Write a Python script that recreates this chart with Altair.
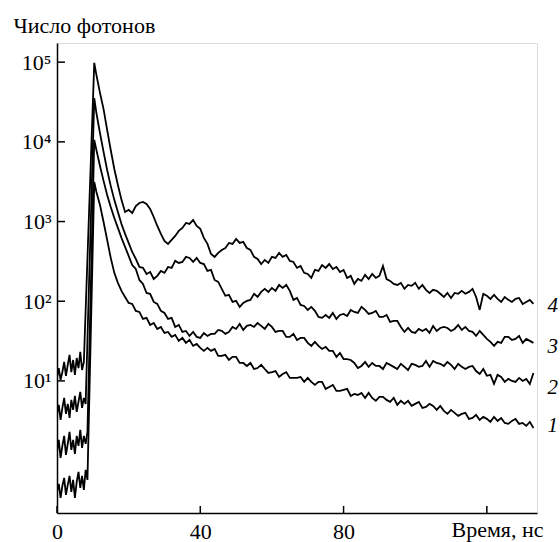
import altair as alt
import pandas as pd

# time grid, ns
t_ns = [0, 0.5, 1, 1.5, 2, 2.5, 3, 3.5, 4, 4.5, 5, 5.5, 6, 6.5, 7, 7.5, 8, 8.5, 10.4] + list(range(11, 134))

curve4 = [10.9, 14.5, 10.3, 12.9, 17.3, 11.6, 15.9, 21.2, 12.9, 18.3, 11.9, 19.4, 14.5, 23.1, 13.7, 17.3,
          77.8, 340, 98000,
          69100, 41100, 25800, 14100, 7910, 4570, 2880, 1870, 1320, 1400,
          1280, 1560, 1710, 1765, 1660, 1440, 1140, 880, 700, 571,
          524, 588, 660, 763, 832, 960, 933, 1047, 880, 808,
          623, 524, 392, 360, 404, 440, 466, 539, 524, 605,
          539, 555, 466, 440, 360, 340, 293, 330, 302, 360,
          349, 404, 360, 381, 321, 311, 262, 277, 227, 220,
          196, 247, 240, 285, 262, 293, 254, 269, 233, 247,
          196, 208, 165, 190, 180, 214, 190, 220, 196, 208,
          277, 190, 180, 165, 160, 170, 143, 160, 156, 170,
          143, 160, 139, 127, 139, 135, 124, 113, 127, 110,
          127, 124, 135, 124, 131, 143, 113, 77.8, 124, 117,
          107, 120, 107, 98, 113, 104, 98, 107, 110, 92.5,
          98, 104, 92.5]

curve3 = [3.75, 5.00, 3.24, 4.59, 6.12, 3.86, 5.15, 3.43, 5.78, 4.33, 6.48, 4.09, 5.46, 7.28, 4.59, 6.12, 5.15,
          32.7, 35500,
          23000, 12900, 7470, 4440, 2800, 1870, 1320, 933, 700, 539,
          415, 340, 269, 262, 220, 233, 190, 208, 240, 227,
          269, 262, 321, 302, 311, 360, 349, 311, 349, 302,
          293, 240, 247, 185, 175, 143, 117, 120, 98, 101,
          84.9, 95, 101, 104, 124, 113, 131, 143, 131, 147,
          135, 160, 147, 160, 135, 104, 110, 89.9, 87.3, 77.8,
          84.9, 75.6, 63.5, 61.8, 67.3, 61.8, 71.3, 60.0, 67.3, 69.3,
          65.4, 77.8, 73.4, 71.3, 84.9, 77.8, 69.3, 71.3, 75.6, 63.5,
          63.5, 67.3, 55.0, 56.6, 56.6, 47.6, 41.2, 46.2, 41.2, 40.0,
          44.9, 42.4, 44.9, 40.0, 49.0, 42.4, 46.2, 47.6, 46.2, 42.4,
          44.9, 50.4, 43.6, 47.6, 42.4, 41.2, 36.7, 42.4, 37.8, 33.7,
          30.9, 27.5, 30.9, 30.0, 35.7, 35.7, 32.7, 33.7, 36.7, 30.0,
          33.7, 31.8, 30.0]

curve2 = [1.28, 1.82, 1.08, 1.53, 2.04, 1.18, 1.62, 2.29, 1.36, 1.82, 1.21, 2.04, 1.53, 2.43, 1.44, 2.04, 1.62, 2.29,
          10600,
          7910, 4980, 3240, 2160, 1520, 1110, 832, 623, 480, 370,
          285, 254, 185, 165, 127, 124, 98, 92.5, 75.6, 71.3,
          60.0, 61.8, 47.6, 50.4, 41.2, 42.4, 36.7, 41.2, 35.7, 34.7,
          40.0, 36.7, 38.9, 38.9, 43.6, 42.4, 38.9, 41.2, 47.6, 44.9,
          51.9, 43.6, 49.0, 50.4, 47.6, 53.4, 49.0, 44.9, 51.9, 47.6,
          41.2, 42.4, 42.4, 35.7, 35.7, 38.9, 32.7, 34.7, 34.7, 30.0,
          27.5, 30.9, 27.5, 25.2, 26.7, 23.8, 23.8, 20.0, 22.4, 18.8,
          18.8, 18.3, 16.8, 14.5, 15.4, 17.3, 15.0, 16.8, 15.4, 15.4,
          14.1, 16.8, 15.9, 15.0, 14.1, 16.4, 15.0, 13.7, 16.4, 15.9,
          15.0, 15.4, 17.8, 15.0, 17.8, 16.8, 16.4, 15.4, 17.3, 15.9,
          14.1, 16.4, 15.0, 14.1, 15.0, 15.4, 13.3, 12.2, 14.1, 11.6,
          11.9, 9.17, 11.9, 11.2, 9.72, 10.6, 10.0, 9.72, 10.9, 10.0,
          10.6, 9.17, 12.6]

curve1 = [0.405, 0.511, 0.340, 0.482, 0.607, 0.371, 0.496, 0.643, 0.405, 0.573, 0.340, 0.541, 0.721, 0.455, 0.643, 0.429, 0.764, 0.573,
          3140,
          2350, 1610, 988, 588, 350, 227, 170, 135, 113, 95.2,
          92.5, 75.6, 73.4, 60.0, 61.8, 50.4, 53.4, 44.9, 47.6, 40.0,
          41.2, 35.7, 37.8, 31.8, 34.7, 30.0, 32.7, 27.5, 29.1, 26.0,
          23.8, 26.0, 23.8, 25.2, 20.6, 20.6, 21.2, 18.3, 20.0, 20.0,
          16.8, 16.8, 15.4, 16.8, 14.1, 14.5, 15.9, 14.1, 12.6, 12.9,
          13.3, 11.2, 12.2, 12.9, 10.9, 10.9, 10.9, 11.2, 9.72, 10.9,
          9.72, 8.91, 9.72, 9.72, 7.94, 8.40, 8.91, 7.49, 7.49, 7.71,
          7.94, 6.48, 6.87, 6.67, 7.07, 6.12, 7.07, 6.12, 5.62, 6.30,
          6.30, 5.78, 5.46, 6.12, 5.00, 5.62, 5.15, 5.62, 4.86, 5.15,
          5.46, 4.59, 4.72, 5.15, 4.86, 4.33, 4.86, 4.21, 3.86, 4.33,
          3.97, 3.64, 3.86, 3.97, 3.34, 3.43, 3.75, 3.24, 3.54, 3.34,
          3.06, 3.54, 3.15, 3.43, 2.97, 2.89, 3.15, 3.34, 2.89, 2.97,
          2.73, 3.06, 2.57]

curve_names = ["1", "2", "3", "4"]
label_t = [138.4, 138.4, 138.4, 138.4]
label_counts = [2.73, 8.17, 26.7, 87.3]

x_ticks = [0, 40, 80, 120]
y_ticks = [10, 100, 1000, 10000, 100000]

rows = []
for name, vals in zip(curve_names, [curve1, curve2, curve3, curve4]):
    for t, v in zip(t_ns, vals):
        rows.append({"t": t, "count": v, "curve": name})
df = pd.DataFrame(rows)

FONT = "Liberation Serif"

x_enc = alt.X(
    "t:Q",
    scale=alt.Scale(domain=[0, 134], nice=False, zero=False),
    axis=alt.Axis(
        values=x_ticks,
        labelExpr="datum.value == 120 ? '' : datum.label",
        ticks=False, tickSize=0, grid=False,
        domainColor="black", domainWidth=1.5,
        labelFont=FONT, labelFontSize=22, labelColor="black",
        labelPadding=8, labelFlush=False,
        title="Время, нс", titleFont=FONT, titleFontSize=22,
        titleFontWeight="normal", titleColor="black",
        titleAlign="right", titleBaseline="alphabetic",
        titleX=486, titleY=23,
    ),
)
y_enc = alt.Y(
    "count:Q",
    scale=alt.Scale(type="log", domain=[0.22, 174000], nice=False),
    axis=alt.Axis(
        values=y_ticks,
        labelExpr="'10' + (datum.value == 10 ? '¹' : datum.value == 100 ? '²' : datum.value == 1000 ? '³' : datum.value == 10000 ? '⁴' : '⁵')",
        ticks=False, tickSize=0, grid=False,
        domainColor="black", domainWidth=1.5,
        labelFont=FONT, labelFontSize=22, labelColor="black",
        labelPadding=6, labelFlush=False,
        title="Число фотонов", titleFont=FONT, titleFontSize=22,
        titleFontWeight="normal", titleColor="black", titleAngle=0,
        titleAlign="left", titleBaseline="alphabetic",
        titleX=-44, titleY=-11,
    ),
)

lines = alt.Chart(df).mark_line(color="black", strokeWidth=1.8, clip=True).encode(
    x=x_enc, y=y_enc, detail="curve:N"
)

ytick_df = pd.DataFrame({"count": y_ticks})
yticks = alt.Chart(ytick_df).mark_rule(color="black", strokeWidth=1.5).encode(
    y=y_enc, x=alt.value(0), x2=alt.value(8)
)
xtick_df = pd.DataFrame({"t": x_ticks})
xticks = alt.Chart(xtick_df).mark_rule(color="black", strokeWidth=1.5).encode(
    x=x_enc, y=alt.value(470), y2=alt.value(463)
)

lab_df = pd.DataFrame({"t": label_t, "count": label_counts, "curve": curve_names})
labels = alt.Chart(lab_df).mark_text(
    font=FONT, fontStyle="italic", fontSize=21, color="black", align="center", baseline="middle"
).encode(x=x_enc, y=y_enc, text="curve:N")

chart = alt.layer(lines, yticks, xticks, labels).properties(
    width=480, height=470,
    autosize=alt.AutoSizeParams(type="none"),
    padding={"left": 57, "top": 43, "right": 23, "bottom": 29},
).configure_view(stroke=None).configure(background="white")

chart.save("out.html", embed_options={"renderer": "svg", "actions": False})
